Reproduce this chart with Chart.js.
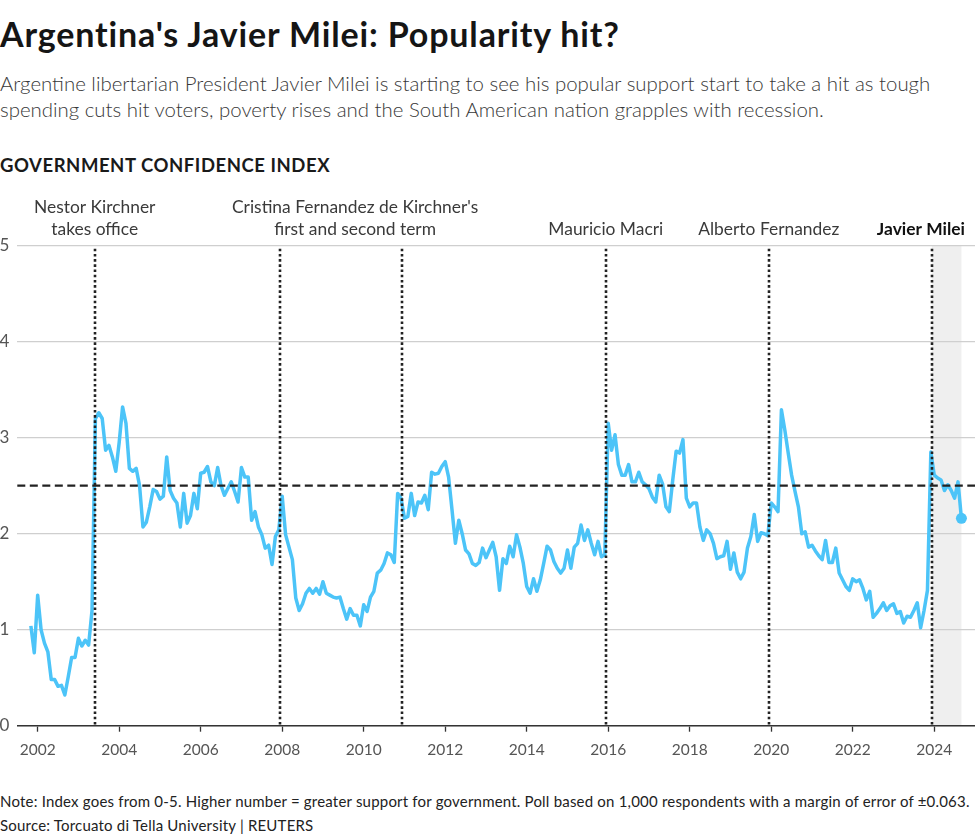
<!DOCTYPE html>
<html>
<head>
<meta charset="utf-8">
<script src="https://cdn.jsdelivr.net/npm/chart.js@4.4.1/dist/chart.umd.min.js"></script>
<style>
  body { margin: 0; background: #fff; font-family: Lato, "Noto Sans", sans-serif; color: #1a1a1a; }
  #page { position: relative; width: 975px; height: 840px; overflow: hidden; }
  h1 { position: absolute; left: 0; top: 14px; margin: 0; font-size: 34px; line-height: 40px; font-weight: 700; letter-spacing: 0.85px; color: #151515; }
  .sub { position: absolute; left: 0; top: 70px; font-size: 20.4px; line-height: 26px; color: #383838; font-weight: 300; }
  .kicker { position: absolute; left: 0; top: 154px; font-size: 18.5px; font-weight: 700; letter-spacing: 0.55px; }
  .wrap { position: absolute; left: 0; top: 190px; width: 975px; height: 580px; }
  .foot { position: absolute; left: 0; top: 789px; font-size: 15px; line-height: 24px; color: #222; letter-spacing: 0.2px; }
</style>
</head>
<body>
<div id="page">
  <h1>Argentina's Javier Milei: Popularity hit?</h1>
  <div class="sub">Argentine libertarian President Javier Milei is starting to see his popular support start to take a hit as tough<br>spending cuts hit voters, poverty rises and the South American nation grapples with recession.</div>
  <div class="kicker">GOVERNMENT CONFIDENCE INDEX</div>
  <div class="wrap"><canvas id="chart"></canvas></div>
  <div class="foot">Note: Index goes from 0-5. Higher number = greater support for government. Poll based on 1,000 respondents with a margin of error of ±0.063.<br>Source: Torcuato di Tella University | REUTERS</div>
</div>
<script>
// monthly index, first value is November 2001
const firstYear = 2001;
const firstMonth = 11;

// Nov 2001 - May 2003
const duhalde = [1.04, 0.76, 1.36, 1.0, 0.86, 0.77, 0.48, 0.48, 0.41, 0.42, 0.32, 0.51, 0.71, 0.71, 0.91, 0.83, 0.89, 0.84, 1.2];
// Jun 2003 - Dec 2007
const nestor = [3.2, 3.26, 3.2, 2.87, 2.92, 2.8, 2.65, 2.95, 3.32, 3.15, 2.68, 2.65, 2.68, 2.5, 2.07, 2.12, 2.28, 2.46, 2.44, 2.36,
  2.39, 2.8, 2.45, 2.37, 2.32, 2.07, 2.42, 2.11, 2.19, 2.42, 2.26, 2.63, 2.64, 2.7, 2.54, 2.5, 2.69, 2.5, 2.4, 2.47,
  2.54, 2.44, 2.33, 2.69, 2.59, 2.59, 2.14, 2.23, 2.07, 1.99, 1.85, 1.88, 1.68, 1.97, 2.04];
// Jan 2008 - Dec 2015
const cristina = [2.39, 1.99, 1.86, 1.73, 1.33, 1.2, 1.27, 1.38, 1.43, 1.38, 1.43, 1.37, 1.5, 1.38, 1.36, 1.34, 1.33, 1.34, 1.22, 1.11,
  1.22, 1.15, 1.15, 1.04, 1.26, 1.19, 1.34, 1.4, 1.59, 1.62, 1.69, 1.8, 1.78, 1.7, 2.42, 2.37, 2.16, 2.18, 2.42, 2.19,
  2.33, 2.32, 2.4, 2.25, 2.64, 2.62, 2.63, 2.7, 2.75, 2.59, 2.25, 1.9, 2.14, 2.0, 1.83, 1.79, 1.69, 1.67, 1.7, 1.85,
  1.75, 1.83, 1.91, 1.76, 1.41, 1.74, 1.69, 1.87, 1.76, 1.99, 1.86, 1.69, 1.45, 1.38, 1.53, 1.4, 1.52, 1.69, 1.87, 1.83,
  1.71, 1.64, 1.59, 1.64, 1.83, 1.64, 1.86, 1.9, 2.09, 1.93, 2.04, 1.9, 1.78, 1.92, 1.76, 1.78];
// Jan 2016 - Dec 2019
const macri = [3.15, 2.87, 3.03, 2.72, 2.61, 2.61, 2.72, 2.54, 2.54, 2.64, 2.54, 2.51, 2.47, 2.38, 2.33, 2.61, 2.52, 2.28, 2.23, 2.56,
  2.86, 2.84, 2.98, 2.37, 2.28, 2.32, 2.32, 2.07, 1.93, 2.04, 2.0, 1.9, 1.74, 1.76, 1.77, 1.92, 1.63, 1.8, 1.6, 1.53,
  1.6, 1.85, 1.97, 2.2, 1.92, 2.01, 2.0, 1.98];
// Jan 2020 - Nov 2023
const alberto = [2.32, 2.28, 2.23, 3.29, 3.08, 2.84, 2.61, 2.44, 2.28, 2.0, 2.02, 1.86, 1.88, 1.82, 1.77, 1.73, 1.93, 1.7, 1.7, 1.85,
  1.59, 1.52, 1.45, 1.41, 1.53, 1.5, 1.52, 1.43, 1.31, 1.4, 1.13, 1.17, 1.22, 1.28, 1.2, 1.25, 1.27, 1.17, 1.19, 1.07,
  1.14, 1.13, 1.2, 1.28, 1.02, 1.2, 1.41];
// Dec 2023 - Sep 2024
const milei = [2.85, 2.61, 2.58, 2.56, 2.45, 2.51, 2.45, 2.37, 2.54, 2.16];

const average = 2.5;
const yearTicks = [2002, 2004, 2006, 2008, 2010, 2012, 2014, 2016, 2018, 2020, 2022, 2024];
const valueTicks = [0, 1, 2, 3, 4, 5];

// dates of the dotted markers, as fractional years
const termLines = [2003.4, 2007.94, 2010.94, 2015.94, 2019.94, 2023.94];
const termLabels = [
  { at: 2003.4, text: ["Nestor Kirchner", "takes office"] },
  { at: 2009.79, text: ["Cristina Fernandez de Kirchner's", "first and second term"] },
  { at: 2015.94, text: ["Mauricio Macri"] },
  { at: 2019.94, text: ["Alberto Fernandez"] },
  { at: null, text: ["Javier Milei"], bold: true }
];

const values = [].concat(duhalde, nestor, cristina, macri, alberto, milei);
const start = firstYear + (firstMonth - 1) / 12;
const points = values.map((v, i) => ({ x: start + i / 12, y: v }));
const lastX = points[points.length - 1].x;

const blue = "#4cc4f8";
const fontFamily = "Lato, 'Noto Sans', sans-serif";

const guides = {
  id: "guides",
  beforeDraw(chart) {
    const { ctx, chartArea: a, scales: { x } } = chart;
    const x0 = x.getPixelForValue(termLines[termLines.length - 1]);
    const x1 = x.getPixelForValue(lastX);
    ctx.save();
    ctx.fillStyle = "#efefef";
    ctx.fillRect(x0, a.top, x1 - x0, a.bottom - a.top);
    ctx.restore();
  },
  afterDatasetsDraw(chart) {
    const { ctx, chartArea: a, scales: { x, y } } = chart;
    ctx.save();
    // average line
    ctx.strokeStyle = "#222";
    ctx.lineWidth = 2.2;
    ctx.setLineDash([8, 4.5]);
    ctx.beginPath();
    ctx.moveTo(a.left, y.getPixelForValue(average));
    ctx.lineTo(a.right, y.getPixelForValue(average));
    ctx.stroke();
    // term markers
    ctx.lineWidth = 2.6;
    ctx.setLineDash([2.6, 2.6]);
    termLines.forEach(t => {
      const px = Math.round(x.getPixelForValue(t));
      ctx.beginPath();
      ctx.moveTo(px, a.top + 3);
      ctx.lineTo(px, a.bottom);
      ctx.stroke();
    });
    ctx.restore();
  },
  afterDraw(chart) {
    const { ctx, chartArea: a, scales: { x } } = chart;
    ctx.save();
    ctx.textBaseline = "alphabetic";
    termLabels.forEach(l => {
      ctx.font = (l.bold ? "700 " : "400 ") + "17.4px " + fontFamily;
      ctx.fillStyle = l.bold ? "#111" : "#3a3a3a";
      let px;
      if (l.at === null) {
        ctx.textAlign = "right";
        px = a.right - 10;
      } else {
        ctx.textAlign = "center";
        px = x.getPixelForValue(l.at);
      }
      const base = a.top - 11;
      l.text.forEach((line, i) => {
        ctx.fillText(line, px, base - (l.text.length - 1 - i) * 22);
      });
    });
    ctx.restore();
  }
};

new Chart(document.getElementById("chart"), {
  type: "line",
  data: {
    datasets: [{
      data: points,
      borderColor: blue,
      backgroundColor: blue,
      borderWidth: 3.5,
      borderJoinStyle: "round",
      tension: 0,
      pointRadius: ctx => (ctx.dataIndex === points.length - 1 ? 5.5 : 0),
      pointBorderWidth: 0,
      pointHoverRadius: 0
    }]
  },
  options: {
    responsive: true,
    maintainAspectRatio: false,
    animation: false,
    events: [],
    layout: { autoPadding: false, padding: { top: 55.7, left: 0, right: 0, bottom: 0 } },
    plugins: { legend: { display: false }, tooltip: { enabled: false } },
    scales: {
      x: {
        type: "linear",
        min: 2001.5,
        max: 2025,
        afterBuildTicks: s => { s.ticks = yearTicks.map(v => ({ value: v })); },
        afterFit: s => { s.height = 44.3; },
        grid: { drawOnChartArea: false, drawTicks: true, tickLength: 6, tickWidth: 1.3, tickColor: "#333" },
        border: { display: true, color: "#333", width: 1.5 },
        ticks: { color: "#555", padding: 9, font: { family: fontFamily, size: 15.5 }, callback: v => String(v) }
      },
      y: {
        min: 0,
        max: 5,
        afterBuildTicks: s => { s.ticks = valueTicks.map(v => ({ value: v })); },
        afterFit: s => { s.width = 17.3; },
        grid: { color: "#cfcfcf", lineWidth: 1.2, drawTicks: false },
        border: { display: false },
        ticks: { color: "#555", padding: 8, font: { family: fontFamily, size: 17 } }
      }
    }
  },
  plugins: [guides]
});
</script>
</body>
</html>
